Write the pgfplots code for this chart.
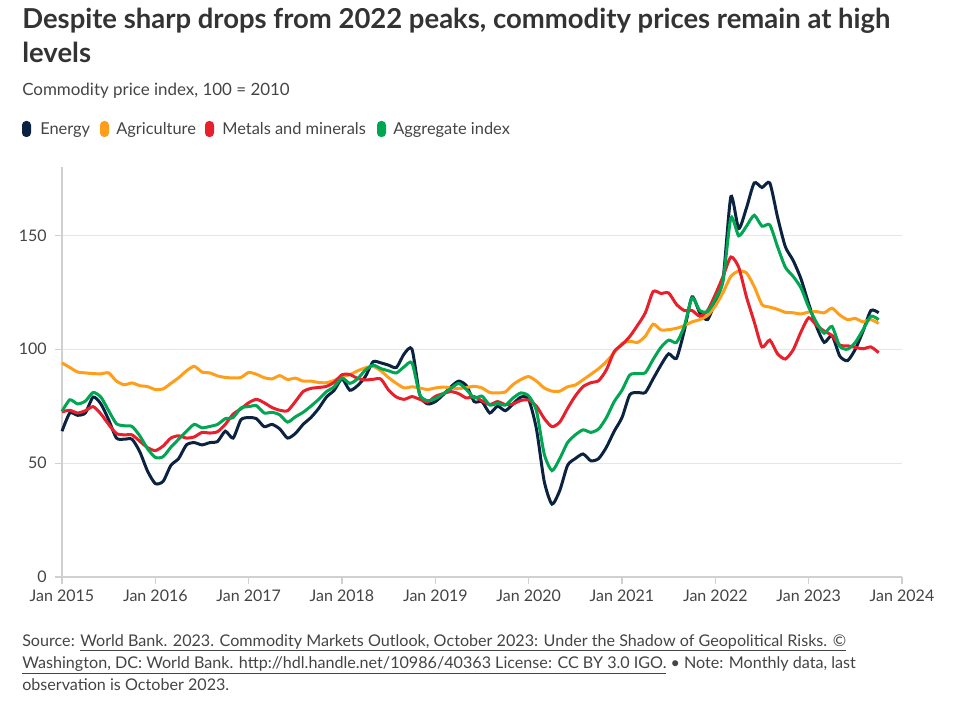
\documentclass[border=0pt]{standalone}
\usepackage{pgfplots}
\pgfplotsset{compat=1.18}
\usepackage{pgfplotstable}
\usepackage{fontspec}
\setmainfont{Lato}
\definecolor{energy}{HTML}{0B2341}
\definecolor{agri}{HTML}{FF9E1B}
\definecolor{metal}{HTML}{E8202C}
\definecolor{aggr}{HTML}{00A651}
\definecolor{titlec}{HTML}{333333}
\definecolor{subc}{HTML}{444444}
\definecolor{gridc}{HTML}{E6E6E6}
\definecolor{axc}{HTML}{D0D0D0}

\pgfplotstableread{
m E A M G
0 64 94 72.5 72.7
1 72 92 73.2 77.8
2 71 90 72 76
3 72 89.6 73 77.2
4 79 89.3 74.8 81
5 76 89.2 71.6 79
6 69 89.6 67 73
7 61 86 63 67.3
8 60.5 84.4 62.4 66.4
9 60.5 85.2 62.4 66.1
10 55 84 59.6 62
11 46.5 83.6 56.8 56.3
12 41 82.3 55.5 52.5
13 42 82.6 57.5 52.8
14 49 85 61 57
15 52 87.5 62 60.5
16 58 90.5 61 64
17 59 92.5 61.5 67
18 58 90 63.5 65.5
19 59 89.6 63.2 66.1
20 59.5 88.3 63.8 67
21 64 87.6 67 69.5
22 61 87.4 71.5 70
23 69 87.6 73.8 74.2
24 70 89.8 76.5 74.8
25 69.5 89 78 75.2
26 66 87.5 76.5 72
27 67 87 74.4 72.3
28 65 88.4 73.2 71.2
29 61 86.7 73 68
30 63 87.3 77 70.3
31 67 86 81.4 72.3
32 70 86 82.8 75
33 74 85.4 83.2 78
34 79 85.3 83.7 81.4
35 82 86.3 85.5 83.5
36 87 88 88.8 87.4
37 82 88.8 88.9 85
38 84 90.5 87.2 87
39 88 91.8 86.5 90.8
40 94.5 92.5 86.8 93
41 94 90.5 86.9 91.5
42 93 87.5 82 90.5
43 92 85 79 89.6
44 98 83 78 92.3
45 100 83.5 79.2 94
46 80 83 78 80
47 76 82.3 76.8 77.4
48 77 83 79.3 78.3
49 80 83.4 80.5 80.4
50 83.5 83 81.4 82.8
51 86 82.7 80.5 85
52 84 83.2 78.6 82.3
53 77 83.7 79.2 78.6
54 77 83 77.3 79.4
55 72 81 75.7 75.5
56 75 80.8 77 76.2
57 73 81.3 75.7 75.5
58 76 84.5 76 78.6
59 79 86.7 77.5 80.8
60 78 88 77.7 79.5
61 65 86 75 73
62 42 83 69.6 54
63 32 81.6 66 46.7
64 38 81.6 68 52
65 49 83.5 74 59
66 52 84.3 79.5 62.4
67 54 86.6 83.6 64.6
68 51 89 85.3 63.5
69 52 91.5 86.2 65
70 57 94.6 91 70
71 64 98.5 99 77
72 70 102.5 102 82
73 80 103.5 105.6 88.7
74 81 103 110.5 89.3
75 81 105.7 116 89.7
76 87 111 125.3 95.5
77 93 108.5 124.5 100.8
78 98 108.6 124.7 104
79 96 109.2 119.7 103
80 108 110.3 117 110
81 123 112 117 122.5
82 116 113 114.5 117
83 113 114.8 117 116.5
84 121 119 124 122
85 131 125 132 130
86 167 132 140.5 157.7
87 153 134.3 136 149.8
88 162 133.5 123 154
89 173 127.5 112 158.8
90 171 119.6 101 154
91 173 118.5 104 154.6
92 158 117.5 98 145
93 145 116.2 95.7 136
94 139 116 99.7 132
95 131 115.5 107.5 127
96 120 116.3 113.8 118.5
97 110 116.5 110.5 111.8
98 103 116 108 107
99 106 118 106 110
100 97 115 101.8 101.3
101 95 113 101.5 100
102 100 113.5 100.8 103
103 108 112 100.2 108.6
104 117 113 101 114.5
105 116 111.3 98.5 113
}\data

\begin{document}
\begin{tikzpicture}
\begin{scope}[x=0.75pt,y=0.75pt]
\useasboundingbox (0,0) rectangle (975,726);
% title
\node[anchor=base west, inner sep=0, text=titlec, font=\fontsize{20.6}{24}\selectfont\bfseries] at (22,697) {Despite sharp drops from 2022 peaks, commodity prices remain at high};
\node[anchor=base west, inner sep=0, text=titlec, font=\fontsize{20.6}{24}\selectfont\bfseries] at (22,663) {levels};
\node[anchor=base west, inner sep=0, text=subc, font=\fontsize{12.7}{15}\selectfont] at (22,630) {Commodity price index, 100 = 2010};
% legend
\fill[energy, rounded corners=3pt] (22,589) rectangle (31,605);
\node[anchor=base west, inner sep=0, text=subc, font=\fontsize{12.3}{14}\selectfont] at (40,591) {Energy};
\fill[agri, rounded corners=3pt] (100,589) rectangle (109,605);
\node[anchor=base west, inner sep=0, text=subc, font=\fontsize{12.3}{14}\selectfont] at (116,591) {Agriculture};
\fill[metal, rounded corners=3pt] (205,589) rectangle (214,605);
\node[anchor=base west, inner sep=0, text=subc, font=\fontsize{12.3}{14}\selectfont] at (222,591) {Metals and minerals};
\fill[aggr, rounded corners=3pt] (377,589) rectangle (386,605);
\node[anchor=base west, inner sep=0, text=subc, font=\fontsize{12.3}{14}\selectfont] at (393,591) {Aggregate index};
% source
\begin{scope}[every node/.style={anchor=base west, inner sep=0, text=subc, font=\fontsize{12.1}{14}\selectfont}]
\node at (22,80) {Source: \underline{World Bank. 2023. Commodity Markets Outlook, October 2023: Under the Shadow of Geopolitical Risks. ©}};
\node at (22,58) {\underline{Washington, DC: World Bank. http://hdl.handle.net/10986/40363 License: CC BY 3.0 IGO.} • Note: Monthly data, last};
\node at (22,36) {observation is October 2023.};
\end{scope}
\end{scope}

\begin{axis}[
  at={(46.5pt,111.75pt)}, anchor=south west,
  scale only axis, width=630pt, height=307.5pt,
  xmin=0, xmax=108, ymin=0, ymax=180,
  axis x line=bottom, axis y line=left,
  axis line style={-, draw=axc, line width=0.8pt},
  xtick={0,12,...,108},
  xticklabels={Jan 2015,Jan 2016,Jan 2017,Jan 2018,Jan 2019,Jan 2020,Jan 2021,Jan 2022,Jan 2023,Jan 2024},
  ytick={0,50,100,150},
  ymajorgrids, grid style={draw=gridc, line width=0.9pt},
  tick align=outside, major tick length=5pt,
  tick style={draw=axc, line width=0.8pt},
  ticklabel style={font=\fontsize{12}{14}\selectfont, text=subc},
  /pgf/number format/assume math mode=true,
  xticklabel style={yshift=-1pt},
  yticklabel style={xshift=-3pt},
  clip=false,
]
\addplot[energy, line width=2.25pt, smooth, tension=0.4] table[x=m, y=E] {\data};
\addplot[agri, line width=2.25pt, smooth, tension=0.4] table[x=m, y=A] {\data};
\addplot[metal, line width=2.25pt, smooth, tension=0.4] table[x=m, y=M] {\data};
\addplot[aggr, line width=2.25pt, smooth, tension=0.4] table[x=m, y=G] {\data};
\end{axis}
\end{tikzpicture}
\end{document}
